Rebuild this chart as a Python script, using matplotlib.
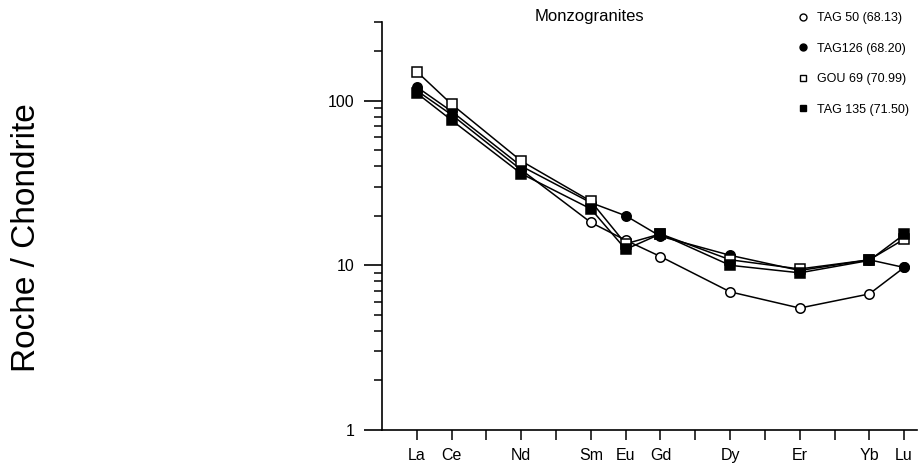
import matplotlib
matplotlib.use("Agg")
import matplotlib.pyplot as plt
from matplotlib.lines import Line2D
from matplotlib.ticker import FixedLocator, NullFormatter

plt.rcParams['font.family'] = ['Liberation Sans', 'DejaVu Sans']

# Rare earth elements in atomic order; only some carry a label
ree = ["La", "Ce", "Pr", "Nd", "Pm", "Sm", "Eu", "Gd", "Tb", "Dy", "Ho", "Er", "Tm", "Yb", "Lu"]
ree_labels = ["La", "Ce", "", "Nd", "", "Sm", "Eu", "Gd", "", "Dy", "", "Er", "", "Yb", "Lu"]

# Analysed elements (chondrite-normalised)
measured = ["La", "Ce", "Nd", "Sm", "Eu", "Gd", "Dy", "Er", "Yb", "Lu"]

tag50 = [115, 82, 38, 18.2, 14.2, 11.3, 6.9, 5.5, 6.7, 9.7]
tag126 = [121, 86, 40, 24.0, 20.0, 15.0, 11.5, 9.3, 10.8, 9.7]
gou69 = [150, 95, 43, 24.5, 13.5, 15.5, 10.8, 9.5, 10.8, 14.4]
tag135 = [111, 76, 36, 22.0, 12.5, 15.5, 10.0, 9.0, 10.7, 15.4]

sample_names = ["TAG 50 (68.13)", "TAG126 (68.20)", "GOU 69 (70.99)", "TAG 135 (71.50)"]
sample_values = [tag50, tag126, gou69, tag135]
sample_markers = ["o", "o", "s", "s"]
sample_faces = ["white", "black", "white", "black"]

fig = plt.figure(figsize=(9.22, 4.73), dpi=100)
ax = fig.add_axes([382 / 922, 43 / 473, 535 / 922, 408 / 473])

xpos = [ree.index(el) for el in measured]
for vals, mk, fc in zip(sample_values, sample_markers, sample_faces):
    ax.plot(xpos, vals, color="black", lw=1.1, marker=mk, markersize=6.8,
            markerfacecolor=fc, markeredgecolor="black", markeredgewidth=1.1)

ax.set_yscale("log")
ax.set_ylim(1, 300)
ax.set_xlim(-1.0, 14.37)

ax.spines["top"].set_visible(False)
ax.spines["right"].set_visible(False)
for s in ("left", "bottom"):
    ax.spines[s].set_linewidth(1.2)

ax.yaxis.set_major_locator(FixedLocator([1, 10, 100]))
ax.set_yticklabels(["1", "10", "100"])
minor = [m * d for d in (1, 10) for m in range(2, 10)] + [200, 300]
ax.yaxis.set_minor_locator(FixedLocator(minor))
ax.yaxis.set_minor_formatter(NullFormatter())
ax.tick_params(axis="y", which="major", direction="out", length=13, width=1.2,
               labelsize=11.5, pad=7)
ax.tick_params(axis="y", which="minor", direction="out", length=5.5, width=1.1)

ax.set_xticks(range(len(ree)))
ax.set_xticklabels(ree_labels)
ax.tick_params(axis="x", which="major", direction="out", length=7, width=1.1,
               labelsize=11.5, pad=6)

fig.text(27 / 922, 1 - 238 / 473, "Roche / Chondrite", rotation=90, fontsize=24,
         ha="center", va="center")
fig.text(589 / 922, 1 - 16 / 473, "Monzogranites", fontsize=12,
         ha="center", va="center")

handles = [Line2D([], [], ls="none", marker=mk, markersize=5,
                  markerfacecolor=fc, markeredgecolor="black", markeredgewidth=1)
           for mk, fc in zip(sample_markers, sample_faces)]
ax.legend(handles, sample_names, loc="upper left",
          bbox_to_anchor=(792 / 922, 1 - 6 / 473), bbox_transform=fig.transFigure,
          frameon=False, fontsize=9, borderpad=0, handlelength=0.8,
          handletextpad=0.7, labelspacing=1.48)

fig.savefig("out.png", dpi=100)
